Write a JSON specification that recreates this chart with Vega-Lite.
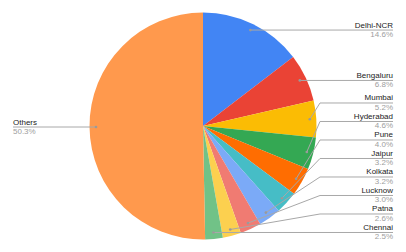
{
  "$schema": "https://vega.github.io/schema/vega-lite/v6.json",
  "width": 406,
  "height": 252,
  "padding": 0,
  "autosize": {"type": "fit", "contains": "padding"},
  "config": {"view": {"stroke": null}, "font": "Liberation Sans", "axis": {"disable": true}},
  "data": {
    "values": [
      {"city": "Delhi-NCR", "pct": 14.6},
      {"city": "Bengaluru", "pct": 6.8},
      {"city": "Mumbai", "pct": 5.2},
      {"city": "Hyderabad", "pct": 4.6},
      {"city": "Pune", "pct": 4.0},
      {"city": "Jaipur", "pct": 3.2},
      {"city": "Kolkata", "pct": 3.2},
      {"city": "Lucknow", "pct": 3.0},
      {"city": "Patna", "pct": 2.6},
      {"city": "Chennai", "pct": 2.5},
      {"city": "Others", "pct": 50.3}
    ]
  },
  "transform": [
    {"window": [{"op": "row_number", "as": "idx"}]},
    {"window": [{"op": "sum", "field": "pct", "as": "cum"}], "sort": [{"field": "idx"}], "frame": [null, 0]},
    {"calculate": "(datum.cum - datum.pct/2)/100*2*PI", "as": "mid"},
    {"calculate": "107*sin(datum.mid)", "as": "dx"},
    {"calculate": "-107*cos(datum.mid)", "as": "dy"},
    {"calculate": "datum.city == 'Others' ? 9999 : datum.dy - 18.5*datum.idx", "as": "v"},
    {"window": [{"op": "min", "field": "v", "as": "m"}], "sort": [{"field": "idx"}], "frame": [0, null]},
    {"calculate": "datum.city == 'Others' ? datum.dy : datum.m + 18.5*datum.idx", "as": "ly"},
    {"calculate": "datum.dx < 0 ? -1 : 1", "as": "side"},
    {"calculate": "117*datum.side", "as": "ex"},
    {"calculate": "190*datum.side", "as": "lx"},
    {"calculate": "format(datum.pct, '.1f') + '%'", "as": "pctLabel"}
  ],
  "layer": [
    {
      "mark": {"type": "arc", "radius": 113.5},
      "encoding": {
        "theta": {"field": "pct", "type": "quantitative", "stack": true},
        "order": {"field": "idx", "type": "quantitative"},
        "color": {
          "field": "city",
          "type": "nominal",
          "legend": null,
          "scale": {
            "domain": ["Delhi-NCR", "Bengaluru", "Mumbai", "Hyderabad", "Pune", "Jaipur", "Kolkata", "Lucknow", "Patna", "Chennai", "Others"],
            "range": ["#4285F4", "#EA4335", "#FBBC04", "#34A853", "#FF6D01", "#46BDC6", "#7BAAF7", "#F07B72", "#FCD04F", "#71C287", "#FF994D"]
          }
        }
      }
    },
    {
      "mark": {"type": "rule", "color": "#a8a8a8", "strokeWidth": 1},
      "encoding": {
        "x": {"field": "dx", "type": "quantitative", "axis": null, "scale": {"domain": [-203, 203], "nice": false, "zero": false}},
        "y": {"field": "dy", "type": "quantitative", "axis": null, "scale": {"domain": [-126, 126], "nice": false, "zero": false, "reverse": true}},
        "x2": {"field": "ex"},
        "y2": {"field": "ly"}
      }
    },
    {
      "mark": {"type": "rule", "color": "#a8a8a8", "strokeWidth": 1},
      "encoding": {
        "x": {"field": "ex", "type": "quantitative", "axis": null},
        "y": {"field": "ly", "type": "quantitative", "axis": null},
        "x2": {"field": "lx"}
      }
    },
    {
      "mark": {"type": "point", "filled": true, "size": 7, "color": "#9a9a9a", "opacity": 1},
      "encoding": {
        "x": {"field": "dx", "type": "quantitative", "axis": null},
        "y": {"field": "dy", "type": "quantitative", "axis": null}
      }
    },
    {
      "transform": [{"filter": "datum.side > 0"}],
      "mark": {"type": "text", "align": "right", "baseline": "alphabetic", "dy": -2.5, "fontSize": 8, "color": "#222222"},
      "encoding": {
        "x": {"field": "lx", "type": "quantitative", "axis": null},
        "y": {"field": "ly", "type": "quantitative", "axis": null},
        "text": {"field": "city"}
      }
    },
    {
      "transform": [{"filter": "datum.side > 0"}],
      "mark": {"type": "text", "align": "right", "baseline": "alphabetic", "dy": 6.8, "fontSize": 8, "color": "#9e9e9e"},
      "encoding": {
        "x": {"field": "lx", "type": "quantitative", "axis": null},
        "y": {"field": "ly", "type": "quantitative", "axis": null},
        "text": {"field": "pctLabel"}
      }
    },
    {
      "transform": [{"filter": "datum.side < 0"}],
      "mark": {"type": "text", "align": "left", "baseline": "alphabetic", "dy": -2.5, "fontSize": 8, "color": "#222222"},
      "encoding": {
        "x": {"field": "lx", "type": "quantitative", "axis": null},
        "y": {"field": "ly", "type": "quantitative", "axis": null},
        "text": {"field": "city"}
      }
    },
    {
      "transform": [{"filter": "datum.side < 0"}],
      "mark": {"type": "text", "align": "left", "baseline": "alphabetic", "dy": 6.8, "fontSize": 8, "color": "#9e9e9e"},
      "encoding": {
        "x": {"field": "lx", "type": "quantitative", "axis": null},
        "y": {"field": "ly", "type": "quantitative", "axis": null},
        "text": {"field": "pctLabel"}
      }
    }
  ]
}
